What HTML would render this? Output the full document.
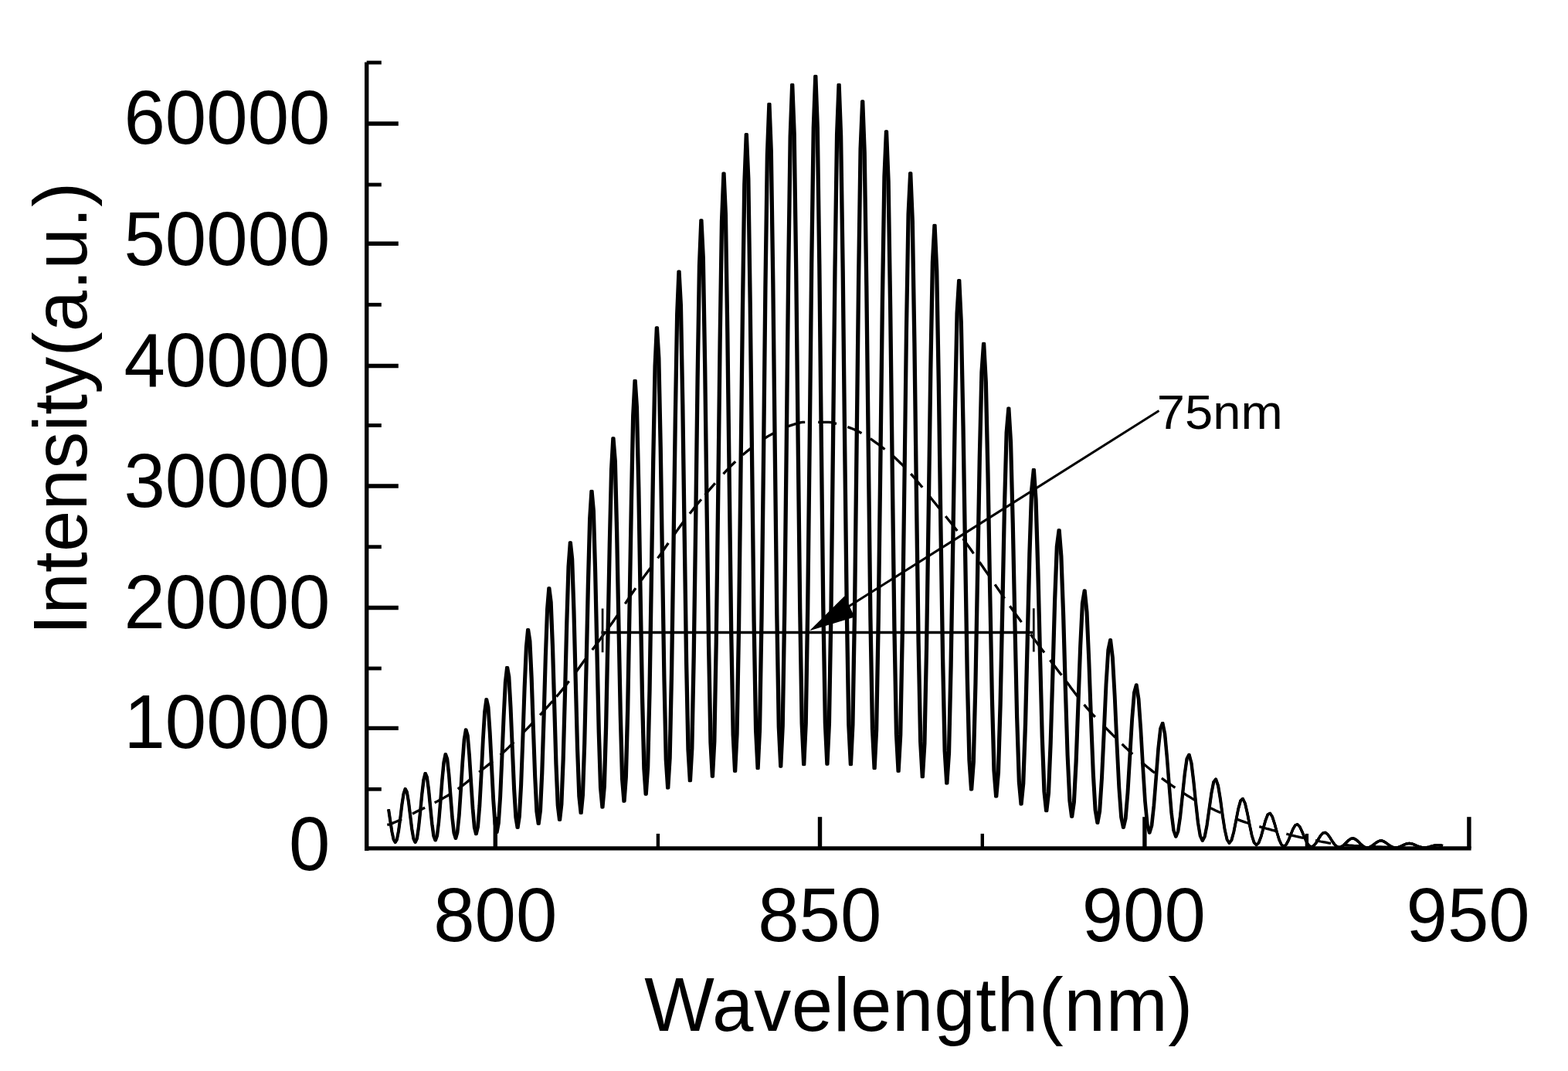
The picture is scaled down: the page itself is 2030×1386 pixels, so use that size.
<!DOCTYPE html>
<html lang="en"><head><meta charset="utf-8"><title>Spectrum</title>
<style>html,body{margin:0;padding:0;background:#fff;}body{width:2030px;height:1386px;overflow:hidden;}svg{display:block;}text{font-family:"Liberation Sans",Arial,Helvetica,sans-serif;fill:#000;}</style></head><body>
<svg role="img" aria-label="Interference spectrum: intensity versus wavelength" width="2030" height="1386" viewBox="0 0 2030 1386">
<rect width="2030" height="1386" fill="#fff"/>
<g>
<g stroke="#000" stroke-width="5.4" fill="none" stroke-linecap="butt">
<path d="M474.7,80.5 V1100.9"/>
<path d="M472,1097.8 H1904.6" stroke-width="5.3"/>
<path d="M474.7,942.4 H515.8"/>
<path d="M474.7,786.5 H515.8"/>
<path d="M474.7,629.0 H515.8"/>
<path d="M474.7,473.5 H515.8"/>
<path d="M474.7,315.3 H515.8"/>
<path d="M474.7,160.0 H515.8"/>
<path d="M474.7,1021.3 H493.8" stroke-width="4.8"/>
<path d="M474.7,865.0 H493.8" stroke-width="4.8"/>
<path d="M474.7,707.7 H493.8" stroke-width="4.8"/>
<path d="M474.7,550.5 H493.8" stroke-width="4.8"/>
<path d="M474.7,394.3 H493.8" stroke-width="4.8"/>
<path d="M474.7,239.0 H493.8" stroke-width="4.8"/>
<path d="M474.7,81.0 H493.8" stroke-width="4.8"/>
<path d="M641.3,1098 V1057.2"/>
<path d="M1061.5,1098 V1057.2"/>
<path d="M1481.9,1098 V1057.2"/>
<path d="M1901.9,1098 V1057.2"/>
<path d="M851.9,1098 V1078.9" stroke-width="4.4"/>
<path d="M1271.8,1098 V1078.9" stroke-width="4.4"/>
<path d="M1691.9,1098 V1078.9" stroke-width="4.4"/>
</g>
<path d="M501.3,1067.4 L504.4,1066.8 L507.6,1065.6 L510.7,1064.2 L513.8,1062.9 L517.0,1061.5 L520.1,1060.1 M533.9,1053.2 L537.1,1051.5 L540.4,1049.7 L543.6,1048.3 L546.9,1046.8 L550.1,1045.2 M562.7,1038.8 L566.0,1037.1 L569.4,1035.3 L572.7,1033.5 L576.0,1031.6 L579.4,1029.7 L582.7,1027.7 M592.7,1021.1 L596.2,1018.6 L599.7,1015.9 L603.2,1013.2 L606.7,1010.4 L610.2,1007.5 M620.2,999.3 L623.7,996.5 L627.2,993.7 L630.8,990.9 L634.3,988.1 L637.8,985.3 M647.8,977.0 L651.3,973.9 L654.8,970.7 L658.3,967.4 L661.8,963.9 L665.3,960.4 M676.6,948.9 L680.0,945.4 L683.5,941.8 L686.9,938.3 L690.3,934.7 M699.1,925.3 L702.4,921.8 L705.6,918.2 L708.9,914.6 L712.1,911.0 L715.4,907.3 M720.4,901.6 L723.7,897.8 L726.9,893.9 L730.2,889.9 L733.4,885.8 L736.7,881.6 M744.2,871.6 L747.7,867.0 L751.1,862.3 L754.5,857.5 L758.0,852.8 M766.7,841.0 L770.0,836.7 L773.2,832.3 L776.5,827.9 L779.7,823.6 L783.0,819.1 M785.5,815.7 L788.5,811.6 L791.5,807.5 L794.5,803.2 L797.5,798.9 L800.5,794.5 M809.3,781.3 L812.7,776.2 L816.1,771.0 L819.6,766.0 L823.0,761.1 M830.5,750.7 L834.0,745.9 L837.5,741.2 L841.0,736.6 L844.5,731.9 M851.5,722.4 L855.0,717.6 L858.4,712.7 L861.8,707.8 L865.3,702.8 M872.8,692.0 L876.2,687.1 L879.7,682.3 L883.1,677.5 L886.6,672.9 M892.9,664.7 L895.9,660.9 L898.9,657.1 L901.9,653.5 L904.9,649.8 L907.9,646.3 M912.7,640.6 L916.0,636.8 L919.2,632.9 L922.5,629.1 L925.8,625.3 M936.5,613.3 L939.6,609.9 L942.8,606.7 L945.9,603.4 L949.1,600.3 L952.2,597.3 M961.5,588.8 L965.1,585.8 L968.6,582.9 L972.2,580.1 M990.3,567.1 L993.8,564.9 L997.4,562.9 L1001.0,561.0 L1004.5,559.1 M1020.3,551.8 L1023.4,550.6 L1026.6,549.6 L1029.7,548.7 L1032.8,547.8 L1035.9,546.9 L1039.1,546.4 L1042.2,546.4 M1059.2,546.4 L1062.6,546.4 L1066.0,546.4 L1069.4,546.4 L1072.8,546.4 L1076.2,546.7 L1079.6,547.6 L1083.0,548.4 M1097.3,552.5 L1100.3,553.6 L1103.4,554.8 L1106.4,556.1 L1109.4,557.5 L1112.5,559.0 L1115.5,560.6 M1126.8,567.6 L1129.9,569.8 L1133.0,572.1 L1136.2,574.3 L1139.3,576.7 L1142.4,579.0 L1145.5,581.5 M1156.0,590.1 L1159.6,593.3 L1163.2,596.7 L1166.8,600.2 L1170.4,603.9 M1179.2,613.2 L1182.2,616.6 L1185.2,620.0 L1188.2,623.6 L1191.2,627.2 L1194.2,630.8 M1201.7,640.1 L1205.0,644.2 L1208.2,648.2 L1211.5,652.3 L1214.7,656.3 L1218.0,660.3 M1224.2,668.0 L1227.2,671.7 L1230.2,675.5 L1233.3,679.3 L1236.3,683.2 L1239.3,687.1 M1246.8,697.1 L1250.2,701.9 L1253.7,706.7 L1257.1,711.5 L1260.5,716.4 M1268.0,727.3 L1271.5,732.2 L1274.9,737.2 L1278.3,742.1 L1281.8,747.1 M1288.1,756.3 L1291.2,760.9 L1294.3,765.4 L1297.5,770.0 L1300.6,774.5 M1307.4,784.2 L1310.4,788.5 L1313.4,792.7 L1316.5,796.9 L1319.5,801.0 L1322.5,805.1 M1334.3,821.0 L1337.8,825.8 L1341.4,830.5 L1344.9,835.2 L1348.5,839.9 L1352.0,844.6 M1359.4,854.2 L1362.4,858.2 L1365.4,862.1 L1368.4,866.0 L1371.4,869.9 L1374.4,873.8 M1380.6,882.1 L1383.6,886.1 L1386.6,890.2 L1389.7,894.2 L1392.7,898.2 L1395.7,902.1 M1403.5,911.9 L1407.1,916.1 L1410.7,920.1 L1414.2,924.1 L1417.8,927.9 M1430.3,940.8 L1433.7,944.1 L1437.0,947.5 L1440.4,950.9 L1443.8,954.2 M1452.6,962.8 L1456.0,966.2 L1459.4,969.4 L1462.9,972.7 L1466.3,975.9 M1477.6,986.0 L1481.1,989.0 L1484.6,991.9 L1488.1,994.8 L1491.6,997.6 L1495.1,1000.3 M1503.9,1007.0 L1507.4,1009.6 L1510.9,1012.1 L1514.4,1014.5 L1517.9,1017.0 L1521.4,1019.4 M1530.2,1025.2 L1533.7,1027.4 L1537.2,1029.6 L1540.7,1031.7 L1544.2,1033.8 L1547.7,1035.8 M1566.5,1045.5 L1570.0,1047.1 L1573.4,1048.7 L1576.8,1050.2 L1580.3,1051.7 M1600.3,1059.8 L1603.8,1061.1 L1607.3,1062.4 L1610.8,1063.6 L1614.3,1064.8 L1617.8,1065.9 M1630.3,1069.7 L1633.5,1070.6 L1636.8,1071.5 L1640.0,1072.4 L1643.2,1073.2 L1646.4,1074.1 L1649.7,1074.9 L1652.9,1075.8 M1665.4,1079.2 L1668.6,1080.0 L1671.8,1080.8 L1675.0,1081.6 L1678.3,1082.4 L1681.5,1083.1 L1684.7,1083.8 L1687.9,1084.5 M1703.0,1087.7 L1706.3,1088.3 L1709.7,1089.0 L1713.0,1089.6 L1716.3,1090.2 L1719.7,1090.8 L1723.0,1091.3 M1740.0,1093.3 L1743.1,1093.6 L1746.3,1093.9 L1749.4,1094.1 L1752.6,1094.4 L1755.7,1094.6 L1758.9,1094.7 L1762.0,1094.9 M1778.0,1095.5 L1781.1,1095.7 L1784.3,1095.8 L1787.4,1095.9 L1790.6,1096.1 L1793.7,1096.2 L1796.9,1096.4 L1800.0,1096.5 M1815.0,1097.3 L1818.3,1097.5 L1821.6,1097.6 L1824.9,1097.7 L1828.1,1097.8 L1831.4,1097.9 L1834.7,1098.1 L1838.0,1098.2" fill="none" stroke="#000" stroke-width="3.3"/>
<g fill="none" stroke="#000" stroke-width="3.3" stroke-linejoin="round" stroke-linecap="butt">
<path d="M502.6,1047.4 L502.8,1048.3 L504.9,1062.6 L507.1,1076.5 L509.2,1086.5 L511.4,1090.1 L513.5,1086.3 L515.6,1075.5 L517.8,1059.4 L519.9,1041.6 L522.1,1027.2 L524.2,1020.8 L526.4,1024.7 L528.5,1037.6 L530.7,1055.5 L532.8,1073.0 L535.0,1085.5 L537.1,1090.1 L539.3,1085.3 L541.4,1071.3 L543.6,1050.6 L545.8,1027.7 L547.9,1009.1 L550.1,1000.7 L552.3,1005.6 L554.4,1022.0 L556.6,1044.5 L558.8,1066.4 L560.9,1082.0 L563.1,1087.6 L565.3,1081.4 L567.5,1063.8 L569.6,1038.0 L571.8,1009.5 L574.0,986.3 L576.2,975.9 L578.4,982.0 L580.6,1002.5 L582.7,1030.8 L584.9,1058.4 L587.1,1078.1 L589.3,1085.1 L591.5,1077.2 L593.7,1055.0 L595.9,1022.2 L598.1,986.3 L600.3,957.1 L602.5,944.1 L604.7,951.6 L606.9,977.1 L609.1,1012.2 L611.3,1046.4 L613.5,1070.8 L615.7,1079.5 L617.9,1069.9 L620.1,1042.5 L622.4,1001.9 L624.6,957.3 L626.8,921.0 L629.0,905.0 L631.2,914.8 L633.4,947.3 L635.7,991.8 L637.9,1035.2 L640.1,1066.0 L642.3,1077.1 L644.6,1065.1 L646.8,1031.1 L649.0,981.2 L651.3,926.7 L653.5,882.8 L655.7,863.6 L658.0,875.8 L660.2,915.2 L662.5,969.0 L664.7,1021.1 L667.0,1058.1 L669.2,1071.2 L671.5,1056.8 L673.7,1016.0 L676.0,955.9 L678.2,890.3 L680.5,837.5 L682.7,814.6 L685.0,829.6 L687.2,877.4 L689.5,942.5 L691.8,1005.6 L694.0,1050.3 L696.3,1066.2 L698.6,1049.0 L700.8,1000.3 L703.1,928.7 L705.4,850.6 L707.7,787.9 L709.9,761.0 L712.2,779.2 L714.5,836.5 L716.8,914.2 L719.0,989.2 L721.3,1042.4 L723.6,1061.2 L725.9,1040.7 L728.2,983.1 L730.5,898.6 L732.8,806.7 L735.1,733.3 L737.4,701.9 L739.7,723.5 L742.0,790.7 L744.3,881.3 L746.6,968.7 L748.9,1030.5 L751.2,1052.4 L753.5,1028.5 L755.8,961.5 L758.1,863.3 L760.4,756.6 L762.7,671.5 L765.0,635.3 L767.4,660.9 L769.7,739.6 L772.0,845.5 L774.3,947.5 L776.6,1019.4 L779.0,1044.9 L781.3,1017.5 L783.6,940.4 L785.9,827.5 L788.3,705.3 L790.6,608.0 L792.9,567.0 L795.3,596.8 L797.6,687.2 L800.0,808.6 L802.3,925.4 L804.6,1007.8 L807.0,1037.0 L809.3,1005.7 L811.7,917.4 L814.0,788.5 L816.4,648.9 L818.7,538.2 L821.1,492.3 L823.4,527.1 L825.8,630.7 L828.1,769.2 L830.5,901.8 L832.9,994.9 L835.2,1028.0 L837.6,992.9 L840.0,894.4 L842.3,751.0 L844.7,596.3 L847.1,474.1 L849.4,423.8 L851.8,463.1 L854.2,578.5 L856.6,732.4 L859.0,879.6 L861.3,983.1 L863.7,1019.9 L866.1,981.0 L868.5,871.8 L870.9,712.8 L873.3,541.4 L875.7,406.3 L878.0,351.2 L880.4,395.4 L882.8,523.6 L885.2,693.7 L887.6,856.2 L890.0,970.2 L892.4,1010.6 L894.8,968.4 L897.2,849.3 L899.7,676.2 L902.1,490.1 L904.5,343.8 L906.9,284.9 L909.3,333.9 L911.7,474.2 L914.1,659.8 L916.6,836.9 L919.0,960.9 L921.4,1005.0 L923.8,959.3 L926.3,830.6 L928.7,643.8 L931.1,443.4 L933.5,286.6 L936.0,224.2 L938.4,277.9 L940.8,429.3 L943.3,628.8 L945.7,818.4 L948.2,951.0 L950.6,998.2 L953.0,949.8 L955.5,813.2 L957.9,615.4 L960.4,403.7 L962.8,238.5 L965.3,173.6 L967.8,231.6 L970.2,392.5 L972.7,603.9 L975.1,804.5 L977.6,944.6 L980.1,994.5 L982.5,943.8 L985.0,800.7 L987.5,593.8 L989.9,372.7 L992.4,200.9 L994.9,134.3 L997.3,196.1 L999.8,364.9 L1002.3,585.7 L1004.8,794.6 L1007.3,940.3 L1009.8,992.0 L1012.2,939.6 L1014.7,792.0 L1017.2,578.9 L1019.7,351.9 L1022.2,176.3 L1024.7,109.3 L1027.2,173.9 L1029.7,347.7 L1032.2,574.2 L1034.7,788.0 L1037.2,936.7 L1039.7,989.5 L1042.2,936.4 L1044.7,786.8 L1047.2,571.0 L1049.7,341.8 L1052.3,165.0 L1054.8,98.4 L1057.3,165.0 L1059.8,341.7 L1062.3,570.9 L1064.8,786.5 L1067.4,936.0 L1069.9,989.0 L1072.4,936.1 L1075.0,787.4 L1077.5,573.8 L1080.0,347.5 L1082.6,173.9 L1085.1,109.3 L1087.6,176.2 L1090.2,351.3 L1092.7,577.6 L1095.3,790.1 L1097.8,937.3 L1100.4,989.5 L1102.9,937.7 L1105.5,792.2 L1108.0,583.2 L1110.6,362.2 L1113.1,193.1 L1115.7,131.0 L1118.2,197.5 L1120.8,369.7 L1123.4,591.6 L1125.9,799.5 L1128.5,943.4 L1131.1,994.5 L1133.7,944.5 L1136.2,803.7 L1138.8,602.2 L1141.4,389.7 L1144.0,228.1 L1146.5,169.9 L1149.1,235.1 L1151.7,401.2 L1154.3,613.9 L1156.9,812.6 L1159.5,949.6 L1162.1,998.1 L1164.7,950.9 L1167.3,818.0 L1169.9,628.0 L1172.5,428.4 L1175.1,277.2 L1177.7,223.8 L1180.3,286.6 L1182.9,443.9 L1185.5,644.4 L1188.1,831.2 L1190.7,959.9 L1193.3,1005.6 L1195.9,961.8 L1198.6,838.5 L1201.2,662.7 L1203.8,478.4 L1206.4,339.5 L1209.0,291.3 L1211.7,350.3 L1214.3,496.1 L1216.9,681.3 L1219.6,853.5 L1222.2,971.9 L1224.8,1013.9 L1227.5,973.8 L1230.1,860.9 L1232.8,700.1 L1235.4,531.9 L1238.1,405.7 L1240.7,362.6 L1243.4,417.5 L1246.0,551.2 L1248.7,720.2 L1251.3,876.6 L1254.0,983.9 L1256.6,1021.9 L1259.3,986.0 L1262.0,885.1 L1264.6,741.8 L1267.3,592.7 L1270.0,481.5 L1272.6,444.5 L1275.3,494.4 L1278.0,613.7 L1280.7,763.8 L1283.4,902.4 L1286.0,997.1 L1288.7,1030.8 L1291.4,999.5 L1294.1,911.2 L1296.8,786.1 L1299.5,656.2 L1302.2,559.7 L1304.9,528.2 L1307.6,572.4 L1310.3,677.0 L1313.0,808.1 L1315.7,928.9 L1318.4,1011.5 L1321.1,1040.8 L1323.8,1013.8 L1326.5,937.3 L1329.2,829.2 L1331.9,717.1 L1334.7,634.2 L1337.4,607.6 L1340.1,646.4 L1342.8,737.0 L1345.6,849.9 L1348.3,953.7 L1351.0,1024.4 L1353.7,1049.5 L1356.5,1026.4 L1359.2,961.7 L1362.0,870.4 L1364.7,776.2 L1367.4,707.1 L1370.2,685.8 L1372.9,719.4 L1375.7,796.0 L1378.4,890.9 L1381.2,977.5 L1384.0,1036.2 L1386.7,1057.0 L1389.5,1038.2 L1392.2,985.6 L1395.0,911.8 L1397.8,836.0 L1400.5,780.8 L1403.3,764.2 L1406.1,791.8 L1408.9,853.9 L1411.6,930.7 L1414.4,1000.7 L1417.2,1048.3 L1420.0,1065.1 L1422.8,1050.0 L1425.6,1007.3 L1428.4,947.3 L1431.2,885.8 L1434.0,841.0 L1436.8,827.8 L1439.6,850.6 L1442.4,901.1 L1445.2,963.2 L1448.0,1019.5 L1450.8,1057.7 L1453.6,1071.2 L1456.4,1059.2 L1459.2,1025.6 L1462.0,978.6 L1464.9,930.7 L1467.7,896.1 L1470.5,886.2 L1473.3,904.4 L1476.2,944.3 L1479.0,993.1 L1481.8,1037.3 L1484.7,1067.1 L1487.5,1077.8 L1490.4,1068.5 L1493.2,1042.5 L1496.1,1006.2 L1498.9,969.3 L1501.8,942.9 L1504.6,935.6 L1507.5,949.9 L1510.3,980.7 L1513.2,1018.1 L1516.0,1052.0 L1518.9,1074.8 L1521.8,1082.9 L1524.6,1076.0 L1527.5,1056.4 L1530.4,1029.2 L1533.3,1001.5 L1536.1,981.7 L1539.0,976.4 L1541.9,987.3 L1544.8,1010.7 L1547.7,1039.1 L1550.5,1064.7 L1553.4,1081.9 L1556.3,1088.1 L1559.2,1082.8 L1562.1,1068.1 L1565.0,1047.6 L1567.9,1026.9 L1570.8,1012.1 L1573.7,1008.3 L1576.6,1016.6 L1579.5,1034.0 L1582.4,1055.1 L1585.4,1073.9 L1588.3,1086.6 L1591.2,1091.1 L1594.1,1087.3 L1597.0,1076.6 L1600.0,1061.7 L1602.9,1046.8 L1605.8,1036.2 L1608.7,1033.6 L1611.7,1039.6 L1614.6,1052.3 L1617.6,1067.5 L1620.5,1081.2 L1623.4,1090.4 L1626.4,1093.6 L1629.3,1090.9 L1632.3,1083.2 L1635.2,1072.5 L1638.2,1061.8 L1641.1,1054.2 L1644.1,1052.4 L1647.0,1056.8 L1650.0,1065.9 L1653.0,1076.9 L1655.9,1086.6 L1658.9,1093.1 L1661.9,1095.3 L1664.8,1093.4 L1667.8,1087.9 L1670.8,1080.5 L1673.8,1073.1 L1676.7,1068.0 L1679.7,1066.8 L1682.7,1069.9 L1685.7,1076.2 L1688.7,1083.6 L1691.7,1090.1 L1694.7,1094.4 L1697.7,1095.9 L1700.7,1094.6 L1703.7,1091.1 L1706.7,1086.2 L1709.7,1081.4 L1712.7,1078.0 L1715.7,1077.3 L1718.7,1079.5 L1721.7,1083.6 L1724.7,1088.5 L1727.7,1092.8 L1730.7,1095.5 L1733.7,1096.5 L1736.8,1095.7 L1739.8,1093.5 L1742.8,1090.5 L1745.8,1087.5 L1748.9,1085.4 L1751.9,1084.9 L1754.9,1086.1 L1758.0,1088.6 L1761.0,1091.7 L1764.0,1094.4 L1767.1,1096.3 L1770.1,1096.9 L1773.2,1096.3 L1776.2,1094.7 L1779.3,1092.4 L1782.3,1090.0 L1785.4,1088.4 L1788.4,1087.9 L1791.5,1088.9 L1794.6,1090.8 L1797.6,1093.2 L1800.7,1095.2 L1803.8,1096.6 L1806.8,1097.0 L1809.9,1096.6 L1813.0,1095.5 L1816.1,1094.0 L1819.2,1092.6 L1822.2,1091.7 L1825.3,1091.5 L1828.4,1092.1 L1831.5,1093.3 L1834.6,1094.7 L1837.7,1095.9 L1840.8,1096.7 L1843.9,1097.0 L1847.0,1096.7 L1850.1,1096.1 L1853.2,1095.2 L1856.3,1094.3 L1859.5,1093.7 L1862.6,1093.6 L1865.7,1094.0 L1868.0,1094.5"/>
<path d="M503.0,1047.4 L503.2,1048.3 L505.3,1062.6 L507.4,1076.5 L509.6,1086.5 L511.7,1090.1 L513.9,1086.3 L516.0,1075.5 L518.2,1059.4 L520.3,1041.6 L522.5,1027.2 L524.7,1020.8 L526.8,1024.7 L529.0,1037.6 L531.1,1055.5 L533.3,1073.0 L535.4,1085.5 L537.6,1090.1 L539.8,1085.3 L541.9,1071.3 L544.1,1050.6 L546.3,1027.7 L548.5,1009.1 L550.6,1000.7 L552.8,1005.6 L555.0,1022.0 L557.2,1044.5 L559.3,1066.4 L561.5,1082.0 L563.7,1087.6 L565.9,1081.4 L568.1,1063.8 L570.2,1038.0 L572.4,1009.5 L574.6,986.3 L576.8,975.9 L579.0,982.0 L581.2,1002.5 L583.4,1030.8 L585.6,1058.4 L587.8,1078.1 L590.0,1085.1 L592.2,1077.2 L594.4,1055.0 L596.6,1022.2 L598.8,986.3 L601.0,957.1 L603.2,944.1 L605.4,951.6 L607.6,977.1 L609.8,1012.2 L612.0,1046.4 L614.2,1070.8 L616.5,1079.5 L618.7,1069.9 L620.9,1042.5 L623.1,1001.9 L625.3,957.3 L627.6,921.0 L629.8,905.0 L632.0,914.8 L634.2,947.3 L636.5,991.8 L638.7,1035.2 L640.9,1066.0 L643.2,1077.1 L645.4,1065.1 L647.6,1031.1 L649.9,981.2 L652.1,926.7 L654.4,882.8 L656.6,863.6 L658.8,875.8 L661.1,915.2 L663.3,969.0 L665.6,1021.1 L667.8,1058.1 L670.1,1071.2 L672.3,1056.8 L674.6,1016.0 L676.8,955.9 L679.1,890.3 L681.4,837.5 L683.6,814.6 L685.9,829.6 L688.1,877.4 L690.4,942.5 L692.7,1005.6 L694.9,1050.3 L697.2,1066.2 L699.5,1049.0 L701.8,1000.3 L704.0,928.7 L706.3,850.6 L708.6,787.9 L710.9,761.0 L713.1,779.2 L715.4,836.5 L717.7,914.2 L720.0,989.2 L722.3,1042.4 L724.6,1061.2 L726.9,1040.7 L729.2,983.1 L731.4,898.6 L733.7,806.7 L736.0,733.3 L738.3,701.9 L740.6,723.5 L742.9,790.7 L745.2,881.3 L747.5,968.7 L749.8,1030.5 L752.1,1052.4 L754.5,1028.5 L756.8,961.5 L759.1,863.3 L761.4,756.6 L763.7,671.5 L766.0,635.3 L768.3,660.9 L770.7,739.6 L773.0,845.5 L775.3,947.5 L777.6,1019.4 L779.9,1044.9 L782.3,1017.5 L784.6,940.4 L786.9,827.5 L789.3,705.3 L791.6,608.0 L793.9,567.0 L796.3,596.8 L798.6,687.2 L800.9,808.6 L803.3,925.4 L805.6,1007.8 L808.0,1037.0 L810.3,1005.7 L812.7,917.4 L815.0,788.5 L817.4,648.9 L819.7,538.2 L822.1,492.3 L824.4,527.1 L826.8,630.7 L829.1,769.2 L831.5,901.8 L833.9,994.9 L836.2,1028.0 L838.6,992.9 L841.0,894.4 L843.3,751.0 L845.7,596.3 L848.1,474.1 L850.4,423.8 L852.8,463.1 L855.2,578.5 L857.6,732.4 L859.9,879.6 L862.3,983.1 L864.7,1019.9 L867.1,981.0 L869.5,871.8 L871.9,712.8 L874.3,541.4 L876.7,406.3 L879.0,351.2 L881.4,395.4 L883.8,523.6 L886.2,693.7 L888.6,856.2 L891.0,970.2 L893.4,1010.6 L895.8,968.4 L898.2,849.3 L900.7,676.2 L903.1,490.1 L905.5,343.8 L907.9,284.9 L910.3,333.9 L912.7,474.2 L915.1,659.8 L917.6,836.9 L920.0,960.9 L922.4,1005.0 L924.8,959.3 L927.3,830.6 L929.7,643.8 L932.1,443.4 L934.5,286.6 L937.0,224.2 L939.4,277.9 L941.8,429.3 L944.3,628.8 L946.7,818.4 L949.2,951.0 L951.6,998.2 L954.0,949.8 L956.5,813.2 L958.9,615.4 L961.4,403.7 L963.8,238.5 L966.3,173.6 L968.8,231.6 L971.2,392.5 L973.7,603.9 L976.1,804.5 L978.6,944.6 L981.1,994.5 L983.5,943.8 L986.0,800.7 L988.5,593.8 L990.9,372.7 L993.4,200.9 L995.9,134.3 L998.3,196.1 L1000.8,364.9 L1003.3,585.7 L1005.8,794.6 L1008.3,940.3 L1010.7,992.0 L1013.2,939.6 L1015.7,792.0 L1018.2,578.9 L1020.7,351.9 L1023.2,176.3 L1025.7,109.3 L1028.2,173.9 L1030.7,347.7 L1033.2,574.2 L1035.7,788.0 L1038.2,936.7 L1040.7,989.5 L1043.2,936.4 L1045.7,786.8 L1048.2,571.0 L1050.7,341.8 L1053.3,165.0 L1055.8,98.4 L1058.3,165.0 L1060.8,341.7 L1063.3,570.9 L1065.8,786.5 L1068.4,936.0 L1070.9,989.0 L1073.4,936.1 L1076.0,787.4 L1078.5,573.8 L1081.0,347.5 L1083.6,173.9 L1086.1,109.3 L1088.6,176.2 L1091.2,351.3 L1093.7,577.6 L1096.3,790.1 L1098.8,937.3 L1101.4,989.5 L1103.9,937.7 L1106.5,792.2 L1109.0,583.2 L1111.6,362.2 L1114.1,193.1 L1116.7,131.0 L1119.2,197.5 L1121.8,369.7 L1124.4,591.6 L1126.9,799.5 L1129.5,943.4 L1132.1,994.5 L1134.7,944.5 L1137.2,803.7 L1139.8,602.2 L1142.4,389.7 L1145.0,228.1 L1147.5,169.9 L1150.1,235.1 L1152.7,401.2 L1155.3,613.9 L1157.9,812.6 L1160.5,949.6 L1163.1,998.1 L1165.7,950.9 L1168.3,818.0 L1170.8,628.0 L1173.4,428.4 L1176.1,277.2 L1178.7,223.8 L1181.3,286.6 L1183.9,443.9 L1186.5,644.4 L1189.1,831.2 L1191.7,959.9 L1194.3,1005.6 L1196.9,961.8 L1199.5,838.5 L1202.2,662.7 L1204.8,478.4 L1207.4,339.5 L1210.0,291.3 L1212.7,350.3 L1215.3,496.1 L1217.9,681.3 L1220.6,853.5 L1223.2,971.9 L1225.8,1013.9 L1228.5,973.8 L1231.1,860.9 L1233.8,700.1 L1236.4,531.9 L1239.1,405.7 L1241.7,362.6 L1244.3,417.5 L1247.0,551.2 L1249.7,720.2 L1252.3,876.6 L1255.0,983.9 L1257.6,1021.9 L1260.3,986.0 L1263.0,885.1 L1265.6,741.8 L1268.3,592.7 L1271.0,481.5 L1273.6,444.5 L1276.3,494.4 L1279.0,613.7 L1281.7,763.8 L1284.3,902.4 L1287.0,997.1 L1289.7,1030.8 L1292.4,999.5 L1295.1,911.2 L1297.8,786.1 L1300.5,656.2 L1303.2,559.7 L1305.8,528.2 L1308.5,572.4 L1311.2,677.0 L1313.9,808.1 L1316.6,928.9 L1319.4,1011.5 L1322.1,1040.8 L1324.8,1013.8 L1327.5,937.3 L1330.2,829.2 L1332.9,717.1 L1335.6,634.2 L1338.3,607.6 L1341.1,646.4 L1343.8,737.0 L1346.5,849.9 L1349.2,953.7 L1352.0,1024.4 L1354.7,1049.5 L1357.4,1026.4 L1360.2,961.7 L1362.9,870.4 L1365.6,776.2 L1368.4,707.1 L1371.1,685.8 L1373.9,719.4 L1376.6,796.0 L1379.4,890.9 L1382.1,977.5 L1384.9,1036.2 L1387.6,1057.0 L1390.4,1038.2 L1393.2,985.6 L1395.9,911.8 L1398.7,836.0 L1401.4,780.8 L1404.2,764.2 L1407.0,791.8 L1409.8,853.9 L1412.5,930.7 L1415.3,1000.7 L1418.1,1048.3 L1420.9,1065.1 L1423.6,1050.0 L1426.4,1007.3 L1429.2,947.3 L1432.0,885.8 L1434.8,841.0 L1437.6,827.8 L1440.4,850.6 L1443.2,901.1 L1446.0,963.2 L1448.8,1019.5 L1451.6,1057.7 L1454.4,1071.2 L1457.2,1059.2 L1460.0,1025.6 L1462.8,978.6 L1465.6,930.7 L1468.4,896.1 L1471.3,886.2 L1474.1,904.4 L1476.9,944.3 L1479.7,993.1 L1482.5,1037.3 L1485.4,1067.1 L1488.2,1077.8 L1491.0,1068.5 L1493.9,1042.5 L1496.7,1006.2 L1499.5,969.3 L1502.4,942.9 L1505.2,935.6 L1508.1,949.9 L1510.9,980.7 L1513.8,1018.1 L1516.6,1052.0 L1519.5,1074.8 L1522.3,1082.9 L1525.2,1076.0 L1528.0,1056.4 L1530.9,1029.2 L1533.8,1001.5 L1536.6,981.7 L1539.5,976.4 L1542.4,987.3 L1545.3,1010.7 L1548.1,1039.1 L1551.0,1064.7 L1553.9,1081.9 L1556.8,1088.1 L1559.6,1082.8 L1562.5,1068.1 L1565.4,1047.6 L1568.3,1026.9 L1571.2,1012.1 L1574.1,1008.3 L1577.0,1016.6 L1579.9,1034.0 L1582.8,1055.1 L1585.7,1073.9 L1588.6,1086.6 L1591.5,1091.1 L1594.4,1087.3 L1597.3,1076.6 L1600.3,1061.7 L1603.2,1046.8 L1606.1,1036.2 L1609.0,1033.6 L1611.9,1039.6 L1614.9,1052.3 L1617.8,1067.5 L1620.7,1081.2 L1623.6,1090.4 L1626.6,1093.6 L1629.5,1090.9 L1632.5,1083.2 L1635.4,1072.5 L1638.3,1061.8 L1641.3,1054.2 L1644.2,1052.4 L1647.2,1056.8 L1650.1,1065.9 L1653.1,1076.9 L1656.0,1086.6 L1659.0,1093.1 L1662.0,1095.3 L1664.9,1093.4 L1667.9,1087.9 L1670.9,1080.5 L1673.8,1073.1 L1676.8,1068.0 L1679.8,1066.8 L1682.8,1069.9 L1685.7,1076.2 L1688.7,1083.6 L1691.7,1090.1 L1694.7,1094.4 L1697.7,1095.9 L1700.7,1094.6 L1703.7,1091.1 L1706.7,1086.2 L1709.7,1081.4 L1712.7,1078.0 L1715.7,1077.3 L1718.7,1079.5 L1721.7,1083.6 L1724.7,1088.5 L1727.7,1092.8 L1730.7,1095.5 L1733.7,1096.5 L1736.8,1095.7 L1739.8,1093.5 L1742.8,1090.5 L1745.8,1087.5 L1748.9,1085.4 L1751.9,1084.9 L1754.9,1086.1 L1758.0,1088.6 L1761.0,1091.7 L1764.0,1094.4 L1767.1,1096.3 L1770.1,1096.9 L1773.2,1096.3 L1776.2,1094.7 L1779.3,1092.4 L1782.3,1090.0 L1785.4,1088.4 L1788.4,1087.9 L1791.5,1088.9 L1794.6,1090.8 L1797.6,1093.2 L1800.7,1095.2 L1803.8,1096.6 L1806.8,1097.0 L1809.9,1096.6 L1813.0,1095.5 L1816.1,1094.0 L1819.2,1092.6 L1822.2,1091.7 L1825.3,1091.5 L1828.4,1092.1 L1831.5,1093.3 L1834.6,1094.7 L1837.7,1095.9 L1840.8,1096.7 L1843.9,1097.0 L1847.0,1096.7 L1850.1,1096.1 L1853.2,1095.2 L1856.3,1094.3 L1859.5,1093.7 L1862.6,1093.6 L1865.7,1094.0 L1868.0,1094.5"/>
<path d="M503.4,1047.4 L503.5,1048.3 L505.7,1062.6 L507.8,1076.5 L510.0,1086.5 L512.1,1090.1 L514.3,1086.3 L516.4,1075.5 L518.6,1059.4 L520.8,1041.6 L522.9,1027.2 L525.1,1020.8 L527.2,1024.7 L529.4,1037.6 L531.6,1055.5 L533.7,1073.0 L535.9,1085.5 L538.1,1090.1 L540.3,1085.3 L542.4,1071.3 L544.6,1050.6 L546.8,1027.7 L549.0,1009.1 L551.2,1000.7 L553.3,1005.6 L555.5,1022.0 L557.7,1044.5 L559.9,1066.4 L562.1,1082.0 L564.3,1087.6 L566.5,1081.4 L568.6,1063.8 L570.8,1038.0 L573.0,1009.5 L575.2,986.3 L577.4,975.9 L579.6,982.0 L581.8,1002.5 L584.0,1030.8 L586.2,1058.4 L588.4,1078.1 L590.6,1085.1 L592.8,1077.2 L595.1,1055.0 L597.3,1022.2 L599.5,986.3 L601.7,957.1 L603.9,944.1 L606.1,951.6 L608.3,977.1 L610.5,1012.2 L612.8,1046.4 L615.0,1070.8 L617.2,1079.5 L619.4,1069.9 L621.7,1042.5 L623.9,1001.9 L626.1,957.3 L628.3,921.0 L630.6,905.0 L632.8,914.8 L635.0,947.3 L637.3,991.8 L639.5,1035.2 L641.8,1066.0 L644.0,1077.1 L646.2,1065.1 L648.5,1031.1 L650.7,981.2 L653.0,926.7 L655.2,882.8 L657.5,863.6 L659.7,875.8 L661.9,915.2 L664.2,969.0 L666.5,1021.1 L668.7,1058.1 L671.0,1071.2 L673.2,1056.8 L675.5,1016.0 L677.7,955.9 L680.0,890.3 L682.3,837.5 L684.5,814.6 L686.8,829.6 L689.1,877.4 L691.3,942.5 L693.6,1005.6 L695.9,1050.3 L698.1,1066.2 L700.4,1049.0 L702.7,1000.3 L705.0,928.7 L707.2,850.6 L709.5,787.9 L711.8,761.0 L714.1,779.2 L716.4,836.5 L718.7,914.2 L720.9,989.2 L723.2,1042.4 L725.5,1061.2 L727.8,1040.7 L730.1,983.1 L732.4,898.6 L734.7,806.7 L737.0,733.3 L739.3,701.9 L741.6,723.5 L743.9,790.7 L746.2,881.3 L748.5,968.7 L750.8,1030.5 L753.1,1052.4 L755.4,1028.5 L757.7,961.5 L760.0,863.3 L762.4,756.6 L764.7,671.5 L767.0,635.3 L769.3,660.9 L771.6,739.6 L774.0,845.5 L776.3,947.5 L778.6,1019.4 L780.9,1044.9 L783.3,1017.5 L785.6,940.4 L787.9,827.5 L790.2,705.3 L792.6,608.0 L794.9,567.0 L797.3,596.8 L799.6,687.2 L801.9,808.6 L804.3,925.4 L806.6,1007.8 L809.0,1037.0 L811.3,1005.7 L813.7,917.4 L816.0,788.5 L818.4,648.9 L820.7,538.2 L823.1,492.3 L825.4,527.1 L827.8,630.7 L830.1,769.2 L832.5,901.8 L834.9,994.9 L837.2,1028.0 L839.6,992.9 L842.0,894.4 L844.3,751.0 L846.7,596.3 L849.1,474.1 L851.4,423.8 L853.8,463.1 L856.2,578.5 L858.6,732.4 L860.9,879.6 L863.3,983.1 L865.7,1019.9 L868.1,981.0 L870.5,871.8 L872.9,712.8 L875.3,541.4 L877.6,406.3 L880.0,351.2 L882.4,395.4 L884.8,523.6 L887.2,693.7 L889.6,856.2 L892.0,970.2 L894.4,1010.6 L896.8,968.4 L899.2,849.3 L901.7,676.2 L904.1,490.1 L906.5,343.8 L908.9,284.9 L911.3,333.9 L913.7,474.2 L916.1,659.8 L918.6,836.9 L921.0,960.9 L923.4,1005.0 L925.8,959.3 L928.2,830.6 L930.7,643.8 L933.1,443.4 L935.5,286.6 L938.0,224.2 L940.4,277.9 L942.8,429.3 L945.3,628.8 L947.7,818.4 L950.2,951.0 L952.6,998.2 L955.0,949.8 L957.5,813.2 L959.9,615.4 L962.4,403.7 L964.8,238.5 L967.3,173.6 L969.8,231.6 L972.2,392.5 L974.7,603.9 L977.1,804.5 L979.6,944.6 L982.1,994.5 L984.5,943.8 L987.0,800.7 L989.5,593.8 L991.9,372.7 L994.4,200.9 L996.9,134.3 L999.3,196.1 L1001.8,364.9 L1004.3,585.7 L1006.8,794.6 L1009.3,940.3 L1011.7,992.0 L1014.2,939.6 L1016.7,792.0 L1019.2,578.9 L1021.7,351.9 L1024.2,176.3 L1026.7,109.3 L1029.2,173.9 L1031.7,347.7 L1034.2,574.2 L1036.7,788.0 L1039.2,936.7 L1041.7,989.5 L1044.2,936.4 L1046.7,786.8 L1049.2,571.0 L1051.7,341.8 L1054.3,165.0 L1056.8,98.4 L1059.3,165.0 L1061.8,341.7 L1064.3,570.9 L1066.8,786.5 L1069.4,936.0 L1071.9,989.0 L1074.4,936.1 L1077.0,787.4 L1079.5,573.8 L1082.0,347.5 L1084.6,173.9 L1087.1,109.3 L1089.6,176.2 L1092.2,351.3 L1094.7,577.6 L1097.3,790.1 L1099.8,937.3 L1102.4,989.5 L1104.9,937.7 L1107.5,792.2 L1110.0,583.2 L1112.6,362.2 L1115.1,193.1 L1117.7,131.0 L1120.2,197.5 L1122.8,369.7 L1125.4,591.6 L1127.9,799.5 L1130.5,943.4 L1133.1,994.5 L1135.6,944.5 L1138.2,803.7 L1140.8,602.2 L1143.4,389.7 L1146.0,228.1 L1148.5,169.9 L1151.1,235.1 L1153.7,401.2 L1156.3,613.9 L1158.9,812.6 L1161.5,949.6 L1164.1,998.1 L1166.7,950.9 L1169.3,818.0 L1171.8,628.0 L1174.4,428.4 L1177.0,277.2 L1179.7,223.8 L1182.3,286.6 L1184.9,443.9 L1187.5,644.4 L1190.1,831.2 L1192.7,959.9 L1195.3,1005.6 L1197.9,961.8 L1200.5,838.5 L1203.2,662.7 L1205.8,478.4 L1208.4,339.5 L1211.0,291.3 L1213.7,350.3 L1216.3,496.1 L1218.9,681.3 L1221.6,853.5 L1224.2,971.9 L1226.8,1013.9 L1229.5,973.8 L1232.1,860.9 L1234.8,700.1 L1237.4,531.9 L1240.0,405.7 L1242.7,362.6 L1245.3,417.5 L1248.0,551.2 L1250.7,720.2 L1253.3,876.6 L1256.0,983.9 L1258.6,1021.9 L1261.3,986.0 L1263.9,885.1 L1266.6,741.8 L1269.3,592.7 L1272.0,481.5 L1274.6,444.5 L1277.3,494.4 L1280.0,613.7 L1282.6,763.8 L1285.3,902.4 L1288.0,997.1 L1290.7,1030.8 L1293.4,999.5 L1296.1,911.2 L1298.8,786.1 L1301.4,656.2 L1304.1,559.7 L1306.8,528.2 L1309.5,572.4 L1312.2,677.0 L1314.9,808.1 L1317.6,928.9 L1320.3,1011.5 L1323.0,1040.8 L1325.7,1013.8 L1328.5,937.3 L1331.2,829.2 L1333.9,717.1 L1336.6,634.2 L1339.3,607.6 L1342.0,646.4 L1344.8,737.0 L1347.5,849.9 L1350.2,953.7 L1352.9,1024.4 L1355.7,1049.5 L1358.4,1026.4 L1361.1,961.7 L1363.9,870.4 L1366.6,776.2 L1369.3,707.1 L1372.1,685.8 L1374.8,719.4 L1377.6,796.0 L1380.3,890.9 L1383.0,977.5 L1385.8,1036.2 L1388.6,1057.0 L1391.3,1038.2 L1394.1,985.6 L1396.8,911.8 L1399.6,836.0 L1402.3,780.8 L1405.1,764.2 L1407.9,791.8 L1410.6,853.9 L1413.4,930.7 L1416.2,1000.7 L1418.9,1048.3 L1421.7,1065.1 L1424.5,1050.0 L1427.3,1007.3 L1430.1,947.3 L1432.8,885.8 L1435.6,841.0 L1438.4,827.8 L1441.2,850.6 L1444.0,901.1 L1446.8,963.2 L1449.6,1019.5 L1452.4,1057.7 L1455.2,1071.2 L1458.0,1059.2 L1460.8,1025.6 L1463.6,978.6 L1466.4,930.7 L1469.2,896.1 L1472.0,886.2 L1474.8,904.4 L1477.6,944.3 L1480.4,993.1 L1483.2,1037.3 L1486.1,1067.1 L1488.9,1077.8 L1491.7,1068.5 L1494.5,1042.5 L1497.4,1006.2 L1500.2,969.3 L1503.0,942.9 L1505.8,935.6 L1508.7,949.9 L1511.5,980.7 L1514.4,1018.1 L1517.2,1052.0 L1520.0,1074.8 L1522.9,1082.9 L1525.7,1076.0 L1528.6,1056.4 L1531.4,1029.2 L1534.3,1001.5 L1537.1,981.7 L1540.0,976.4 L1542.9,987.3 L1545.7,1010.7 L1548.6,1039.1 L1551.5,1064.7 L1554.3,1081.9 L1557.2,1088.1 L1560.1,1082.8 L1563.0,1068.1 L1565.8,1047.6 L1568.7,1026.9 L1571.6,1012.1 L1574.5,1008.3 L1577.4,1016.6 L1580.3,1034.0 L1583.1,1055.1 L1586.0,1073.9 L1588.9,1086.6 L1591.8,1091.1 L1594.7,1087.3 L1597.6,1076.6 L1600.5,1061.7 L1603.4,1046.8 L1606.4,1036.2 L1609.3,1033.6 L1612.2,1039.6 L1615.1,1052.3 L1618.0,1067.5 L1620.9,1081.2 L1623.9,1090.4 L1626.8,1093.6 L1629.7,1090.9 L1632.6,1083.2 L1635.6,1072.5 L1638.5,1061.8 L1641.5,1054.2 L1644.4,1052.4 L1647.3,1056.8 L1650.3,1065.9 L1653.2,1076.9 L1656.2,1086.6 L1659.1,1093.1 L1662.1,1095.3 L1665.0,1093.4 L1668.0,1087.9 L1671.0,1080.5 L1673.9,1073.1 L1676.9,1068.0 L1679.9,1066.8 L1682.8,1069.9 L1685.8,1076.2 L1688.8,1083.6 L1691.8,1090.1 L1694.7,1094.4 L1697.7,1095.9 L1700.7,1094.6 L1703.7,1091.1 L1706.7,1086.2 L1709.7,1081.4 L1712.7,1078.0 L1715.7,1077.3 L1718.7,1079.5 L1721.7,1083.6 L1724.7,1088.5 L1727.7,1092.8 L1730.7,1095.5 L1733.7,1096.5 L1736.8,1095.7 L1739.8,1093.5 L1742.8,1090.5 L1745.8,1087.5 L1748.9,1085.4 L1751.9,1084.9 L1754.9,1086.1 L1758.0,1088.6 L1761.0,1091.7 L1764.0,1094.4 L1767.1,1096.3 L1770.1,1096.9 L1773.2,1096.3 L1776.2,1094.7 L1779.3,1092.4 L1782.3,1090.0 L1785.4,1088.4 L1788.4,1087.9 L1791.5,1088.9 L1794.6,1090.8 L1797.6,1093.2 L1800.7,1095.2 L1803.8,1096.6 L1806.8,1097.0 L1809.9,1096.6 L1813.0,1095.5 L1816.1,1094.0 L1819.2,1092.6 L1822.2,1091.7 L1825.3,1091.5 L1828.4,1092.1 L1831.5,1093.3 L1834.6,1094.7 L1837.7,1095.9 L1840.8,1096.7 L1843.9,1097.0 L1847.0,1096.7 L1850.1,1096.1 L1853.2,1095.2 L1856.3,1094.3 L1859.5,1093.7 L1862.6,1093.6 L1865.7,1094.0 L1868.0,1094.5"/>
</g>
<path d="M778.4,818.5 H1339" stroke="#000" stroke-width="3.4" fill="none"/>
<path d="M780.1,787.6 V844.2 M1338.3,787.3 V843.6" stroke="#1a1a1a" stroke-width="2.8" fill="none"/>
<path d="M1500.5,531.6 L1098,785.3" stroke="#000" stroke-width="3.0" fill="none"/>
<path d="M1048.0,816.2 L1093.5,771.3 L1106.5,798.5 Z" fill="#000"/>
</g>
<g>
<text transform="translate(427.4,1126.3) scale(1,1.025)" font-size="96" text-anchor="end">0</text>
<text transform="translate(427.4,968.3) scale(1,1.025)" font-size="96" text-anchor="end">10000</text>
<text transform="translate(427.4,812.8) scale(1,1.025)" font-size="96" text-anchor="end">20000</text>
<text transform="translate(427.4,656.3) scale(1,1.025)" font-size="96" text-anchor="end">30000</text>
<text transform="translate(427.4,500.3) scale(1,1.025)" font-size="96" text-anchor="end">40000</text>
<text transform="translate(427.4,342.7) scale(1,1.025)" font-size="96" text-anchor="end">50000</text>
<text transform="translate(427.4,186.3) scale(1,1.025)" font-size="96" text-anchor="end">60000</text>
<text transform="translate(641.3,1218.0) scale(1,1.025)" font-size="96" text-anchor="middle">800</text>
<text transform="translate(1061.2,1218.0) scale(1,1.025)" font-size="96" text-anchor="middle">850</text>
<text transform="translate(1480.7,1218.0) scale(1,1.025)" font-size="96" text-anchor="middle">900</text>
<text transform="translate(1900.6,1218.0) scale(1,1.025)" font-size="96" text-anchor="middle">950</text>
<text transform="translate(834.3,1334.0) scale(1,1.025)" font-size="96" text-anchor="start" textLength="710" lengthAdjust="spacing">Wavelength(nm)</text>
<text transform="translate(111.7,821.8) rotate(-90) scale(1,1.025)" font-size="96" text-anchor="start" textLength="586" lengthAdjust="spacing">Intensity(a.u.)</text>
<text transform="translate(1497.8,554.8) scale(1,1.025)" font-size="62" text-anchor="start" textLength="162.8" lengthAdjust="spacingAndGlyphs">75nm</text>
</g>
</svg></body></html>
